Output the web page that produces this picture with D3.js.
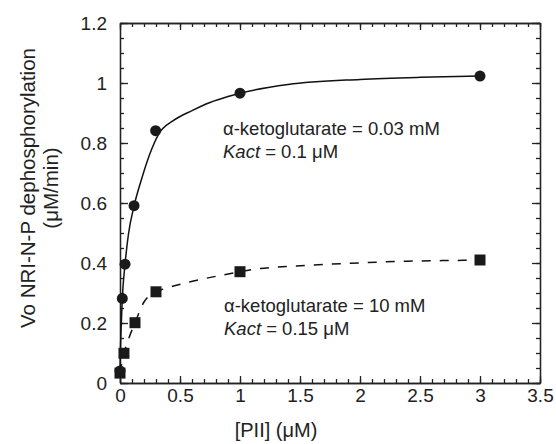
<!DOCTYPE html>
<html lang="en">
<head>
    <meta charset="UTF-8">
    <title>Vo vs PII</title>
    <script src="https://d3js.org/d3.v7.min.js"></script>
    <style>
        body { margin: 0; background: #fff; }
        svg text { font-family: "Liberation Sans", Arial, sans-serif; fill: #222; }
        .axis path, .axis line { stroke: #222; stroke-width: 1.3px; }
    </style>
</head>
<body>
    <svg width="556" height="444"></svg>

    <script>
        // measured points, alpha-ketoglutarate = 0.03 mM (circles)
        const circX = [0, 0.019, 0.042, 0.117, 0.297, 1.0, 3.0];
        const circY = [0.04, 0.282, 0.396, 0.591, 0.841, 0.966, 1.023];

        // measured points, alpha-ketoglutarate = 10 mM (squares)
        const sqX = [0, 0.033, 0.125, 0.3, 1.0, 3.0];
        const sqY = [0.033, 0.099, 0.201, 0.304, 0.371, 0.41];

        // fitted curves
        const fitSolidX = [0, 0.005, 0.01, 0.019, 0.042, 0.07, 0.117, 0.18, 0.25, 0.32, 0.45, 0.6, 0.75, 0.9, 1.0, 1.4, 2.0, 2.5, 3.0];
        const fitSolidY = [0.04, 0.13, 0.19, 0.28, 0.396, 0.495, 0.59, 0.68, 0.765, 0.828, 0.876, 0.908, 0.935, 0.955, 0.966, 0.995, 1.012, 1.019, 1.023];
        const fitDashX = [0, 0.033, 0.07, 0.125, 0.2, 0.3, 0.36, 0.53, 0.68, 0.83, 1.0, 1.14, 1.47, 1.92, 2.39, 2.86, 3.0];
        const fitDashY = [0.033, 0.099, 0.145, 0.201, 0.27, 0.304, 0.313, 0.332, 0.346, 0.358, 0.371, 0.38, 0.39, 0.399, 0.406, 0.409, 0.41];

        const xTicks = [0, 0.5, 1, 1.5, 2, 2.5, 3, 3.5];
        const yTicks = [0, 0.2, 0.4, 0.6, 0.8, 1, 1.2];

        const svg = d3.select("svg");

        const x = d3.scaleLinear().domain([0, 3.5]).range([120, 540]);
        const y = d3.scaleLinear().domain([0, 1.2]).range([383, 23]);

        const fmt = d3.format("~g");
        const xMinor = d3.range(0, 3.51, 0.1);
        const yMinor = d3.range(0, 1.201, 0.05);

        // minor ticks on all four sides
        svg.append("g").attr("class", "axis").attr("transform", "translate(0,383)")
            .call(d3.axisBottom(x).tickValues(xMinor).tickSize(-4).tickSizeOuter(0).tickFormat(""));
        svg.append("g").attr("class", "axis").attr("transform", "translate(0,23)")
            .call(d3.axisTop(x).tickValues(xMinor).tickSize(-4).tickSizeOuter(0).tickFormat(""));
        svg.append("g").attr("class", "axis").attr("transform", "translate(120,0)")
            .call(d3.axisLeft(y).tickValues(yMinor).tickSize(-4).tickSizeOuter(0).tickFormat(""));
        svg.append("g").attr("class", "axis").attr("transform", "translate(540,0)")
            .call(d3.axisRight(y).tickValues(yMinor).tickSize(-4).tickSizeOuter(0).tickFormat(""));

        // major ticks
        svg.append("g").attr("class", "axis").attr("transform", "translate(0,383)")
            .call(d3.axisBottom(x).tickValues(xTicks).tickSize(-7).tickSizeOuter(0).tickPadding(6).tickFormat(fmt))
            .selectAll("text").style("font-size", "19px");
        svg.append("g").attr("class", "axis").attr("transform", "translate(0,23)")
            .call(d3.axisTop(x).tickValues(xTicks).tickSize(-7).tickSizeOuter(0).tickFormat(""));
        svg.append("g").attr("class", "axis").attr("transform", "translate(120,0)")
            .call(d3.axisLeft(y).tickValues(yTicks).tickSize(-8).tickSizeOuter(0).tickPadding(13).tickFormat(fmt))
            .selectAll("text").style("font-size", "19px");
        svg.append("g").attr("class", "axis").attr("transform", "translate(540,0)")
            .call(d3.axisRight(y).tickValues(yTicks).tickSize(-8).tickSizeOuter(0).tickFormat(""));

        svg.selectAll(".axis text").attr("fill", "#222");

        // fitted curves
        const line = d3.line().x(d => x(d[0])).y(d => y(d[1])).curve(d3.curveMonotoneX);

        svg.append("path")
            .datum(d3.zip(fitSolidX, fitSolidY))
            .attr("d", line)
            .attr("fill", "none").attr("stroke", "#111").attr("stroke-width", 1.5);

        svg.append("path")
            .datum(d3.zip(fitDashX, fitDashY))
            .attr("d", line)
            .attr("fill", "none").attr("stroke", "#111").attr("stroke-width", 1.5)
            .attr("stroke-dasharray", "9,9");

        // markers
        svg.selectAll(".sq")
            .data(d3.zip(sqX, sqY))
            .enter().append("rect")
            .attr("class", "sq")
            .attr("x", d => x(d[0]) - 5.5)
            .attr("y", d => y(d[1]) - 5.5)
            .attr("width", 11).attr("height", 11)
            .attr("fill", "#1a1a1a");

        svg.selectAll(".circ")
            .data(d3.zip(circX, circY))
            .enter().append("circle")
            .attr("class", "circ")
            .attr("cx", d => x(d[0]))
            .attr("cy", d => y(d[1]))
            .attr("r", 5.5)
            .attr("fill", "#1a1a1a");

        // annotations
        const note = (tx, ty, conc, kact) => {
            svg.append("text").attr("x", tx).attr("y", ty).style("font-size", "18.5px")
                .text("α-ketoglutarate = " + conc);
            const t = svg.append("text").attr("x", tx).attr("y", ty + 23).style("font-size", "18.5px");
            t.append("tspan").style("font-style", "italic").text("Kact");
            t.append("tspan").text(" = " + kact);
        };
        note(223, 135, "0.03 mM", "0.1 μM");
        note(224, 312, "10 mM", "0.15 μM");

        // axis titles
        svg.append("text")
            .attr("x", 276).attr("y", 437)
            .attr("text-anchor", "middle")
            .style("font-size", "20px")
            .text("[PII] (μM)");

        svg.append("text")
            .attr("transform", "translate(35,188) rotate(-90)")
            .attr("text-anchor", "middle")
            .style("font-size", "20.5px")
            .text("Vo NRI-N-P dephosphorylation");

        svg.append("text")
            .attr("transform", "translate(58,188) rotate(-90)")
            .attr("text-anchor", "middle")
            .style("font-size", "20.5px")
            .text("(μM/min)");
    </script>
</body>
</html>
